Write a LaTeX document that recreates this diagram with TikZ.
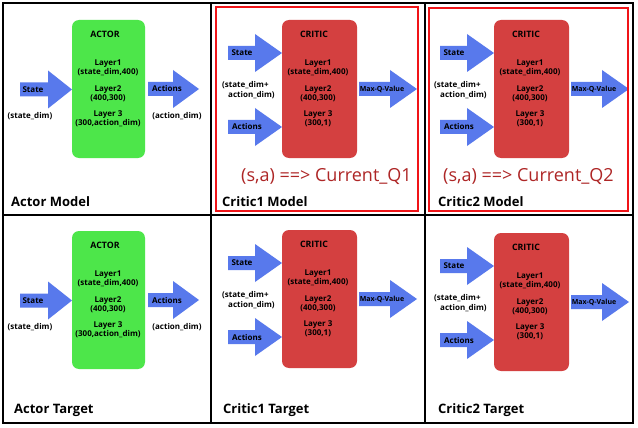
\documentclass[tikz,border=0pt]{standalone}
\usepackage{fontspec}
\setmainfont{Open Sans}
\definecolor{arrowblue}{HTML}{5879EC}
\definecolor{actgreen}{HTML}{4DE64A}
\definecolor{critred}{HTML}{D44040}
\definecolor{capred}{HTML}{AE2626}
\definecolor{framered}{HTML}{F01418}
\tikzset{
  txt/.style={font=\bfseries\fontsize{8}{9}\selectfont, inner sep=0pt, align=center},
  smalltxt/.style={font=\bfseries\fontsize{7}{8}\selectfont, inner sep=0pt},
  hdr/.style={font=\bfseries\fontsize{8.8}{10}\selectfont, inner sep=0pt},
  actorbox/.style={fill=actgreen, rounded corners=7pt, minimum width=73pt, minimum height=138pt, inner sep=0pt},
  criticbox/.style={fill=critred, rounded corners=7pt, minimum width=75pt, minimum height=138pt, inner sep=0pt},
  title/.style={font=\bfseries\fontsize{13}{15}\selectfont, inner sep=0pt, anchor=base west},
  caption/.style={font=\fontsize{18}{20}\selectfont, text=capred, inner sep=0pt, anchor=base},
  frame/.style={draw=black, line width=2.2pt},
  redframe/.style={draw=framered, line width=2pt}
}
\newcommand\fatarrow[4]{%
  \fill[arrowblue] (#1,{#4-7}) -- (#2,{#4-7}) -- (#2,{#4-19}) -- (#3,#4) -- (#2,{#4+19}) -- (#2,{#4+7}) -- (#1,{#4+7}) -- cycle;}
\newcommand\actorpanel[3]{%
  \begin{scope}[shift={(#2,#3)}]
    \node[actorbox] (#1box) at (108.5,89) {};
    \node[hdr] (#1hdr) at (105,34) {ACTOR};
    \node[txt] (#1la) at (108,67.5) {Layer1\\(state\_dim,400)};
    \node[txt] (#1lb) at (108,93.5) {Layer2\\(400,300)};
    \node[txt] (#1lc) at (108,118.5) {Layer 3\\(300,action\_dim)};
    \fatarrow{20}{48}{72}{89.5}
    \node[txt] (#1st) at (33,89.5) {State};
    \node[txt] (#1sd) at (30,116) {(state\_dim)};
    \fatarrow{148}{173}{199}{89}
    \node[txt] (#1ac) at (167,89) {Actions};
    \node[txt] (#1ad) at (177,116) {(action\_dim)};
  \end{scope}}
\newcommand\criticpanel[3]{%
  \begin{scope}[shift={(#2,#3)}]
    \node[criticbox] (#1box) at (319.5,89) {};
    \node[hdr] (#1hdr) at (314,34) {CRITIC};
    \node[txt] (#1la) at (318,67.5) {Layer1\\(state\_dim,400)};
    \node[txt] (#1lb) at (318,93.5) {Layer2\\(400,300)};
    \node[txt] (#1lc) at (318,118.5) {Layer 3\\(300,1)};
    \fatarrow{228}{255}{282}{53}
    \node[txt] (#1st) at (242,53) {State};
    \fatarrow{228}{255}{282}{127}
    \node[txt] (#1ac) at (247,127) {Actions};
    \node[txt, align=left, anchor=west, font=\bfseries\fontsize{8}{10}\selectfont] (#1dim) at (222,90) {(state\_dim+\\\hspace*{6pt}action\_dim)};
    \fatarrow{359}{390}{417}{89}
    \node[smalltxt] (#1q) at (382,89) {Max-Q-Value};
  \end{scope}}
\begin{document}
\begin{tikzpicture}[x=1pt,y=-1pt]
  \useasboundingbox (0,0) rectangle (638,428);
  \fill[white] (0,0) rectangle (638,428);
  % panels
  \actorpanel{am}{0}{0}
  \criticpanel{ca}{0}{0}
  \criticpanel{cb}{212}{0}
  \actorpanel{at}{0}{211}
  \criticpanel{cc}{0}{210}
  \criticpanel{cd}{212}{213}
  % captions
  \node[caption] (capa) at (326.5,182) {(s,a) ==> Current\_Q1};
  \node[caption] (capb) at (528.5,182) {(s,a) ==> Current\_Q2};
  % titles
  \node[title] (ta) at (11,206) {Actor Model};
  \node[title] (tb) at (222,206) {Critic1 Model};
  \node[title] (tc) at (438,206) {Critic2 Model};
  \node[title] (td) at (14,413) {Actor Target};
  \node[title] (te) at (223,413) {Critic1 Target};
  \node[title] (tf) at (438,413) {Critic2 Target};
  % frames
  \draw[frame] (3,3) rectangle (633,423);
  \draw[frame] (211,3) -- (211,423);
  \draw[frame] (425,3) -- (425,423);
  \draw[frame] (3,215) -- (633,215);
  \draw[redframe] (216,7) rectangle (418,211);
  \draw[redframe] (429,8) rectangle (628,211);
\end{tikzpicture}
\end{document}
